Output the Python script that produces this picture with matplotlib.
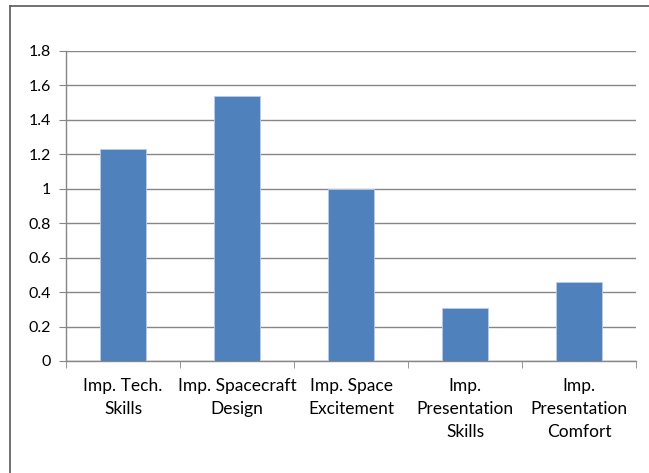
import matplotlib.pyplot as plt
from matplotlib.lines import Line2D

categories = ["Imp. Tech.\nSkills", "Imp. Spacecraft\nDesign", "Imp. Space\nExcitement",
              "Imp.\nPresentation\nSkills", "Imp.\nPresentation\nComfort"]
values = [1.23, 1.54, 1.0, 0.31, 0.46]
yticks = [0, 0.2, 0.4, 0.6, 0.8, 1, 1.2, 1.4, 1.6, 1.8]
ytick_labels = ["0", "0.2", "0.4", "0.6", "0.8", "1", "1.2", "1.4", "1.6", "1.8"]


def main():
    plt.rcParams['font.family'] = ['Lato', 'DejaVu Sans']
    fig = plt.figure(figsize=(6.49, 4.73), dpi=100)
    ax = fig.add_axes([0.1017, 0.2368, 0.8783, 0.6554])

    x = list(range(len(values)))
    ax.bar(x, values, width=0.4, color="#4F81BD", edgecolor="#BCCDE5",
           linewidth=0.6, zorder=3)

    ax.set_xlim(-0.5, len(values) - 0.5)
    ax.set_ylim(0, 1.8)
    ax.set_yticks(yticks)
    ax.set_yticklabels(ytick_labels, fontsize=11.5)
    ax.set_xticks(x)
    ax.set_xticklabels(categories, fontsize=12.5, linespacing=1.55)
    ax.tick_params(axis="x", length=0, pad=12)
    ax.set_xticks([i - 0.5 for i in range(len(values) + 1)], minor=True)
    ax.tick_params(axis="x", which="minor", length=5, color="#868686")
    ax.tick_params(axis="y", length=5, color="#868686", pad=6)

    ax.grid(axis="y", color="#868686", linewidth=1, zorder=0)
    for side in ["top", "right"]:
        ax.spines[side].set_visible(False)
    for side in ["left", "bottom"]:
        ax.spines[side].set_color("#868686")
        ax.spines[side].set_linewidth(1)

    # chart area border (top and left visible)
    fig.add_artist(Line2D([10 / 649, 1.0], [1 - 6 / 473, 1 - 6 / 473],
                          color="#595959", linewidth=1.2, transform=fig.transFigure))
    fig.add_artist(Line2D([10 / 649, 10 / 649], [0, 1 - 6 / 473],
                          color="#595959", linewidth=1.2, transform=fig.transFigure))

    plt.savefig("out.png", dpi=100)
    plt.close()


if __name__ == "__main__":
    main()
